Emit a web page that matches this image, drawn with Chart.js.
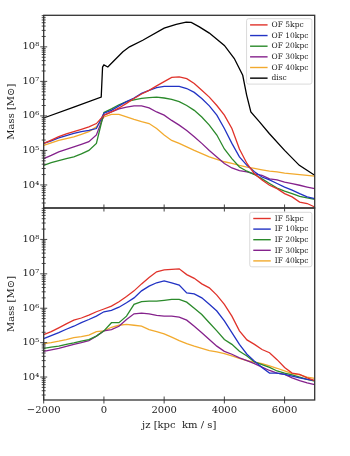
<!DOCTYPE html>
<html><head><meta charset="utf-8">
<script src="https://cdn.jsdelivr.net/npm/chart.js@4.4.1/dist/chart.umd.min.js"></script>
<style>
html,body{margin:0;padding:0;background:#fff;width:350px;height:456px;overflow:hidden}
#c1{position:absolute;left:0;top:0;width:350px;height:212px}
#c2{position:absolute;left:0;top:204px;width:350px;height:252px}
</style></head><body>
<canvas id="c1" width="350" height="212"></canvas>
<canvas id="c2" width="350" height="252"></canvas>
<script>
// ---------- data ----------
const jz = [-2000,-1750,-1500,-1250,-1000,-750,-500,-250,0,250,500,750,1000,1250,1500,1750,2000,2250,2500,2750,3000,3250,3500,3750,4000,4250,4500,4750,5000,5250,5500,5750,6000,6250,6500,6750,7000];

const of5kpc  = [1.6e5,2.0e5,2.5e5,3.0e5,3.5e5,4.1e5,4.8e5,6.0e5,1.05e6,1.3e6,1.7e6,2.3e6,3.2e6,4.3e6,5.5e6,7.4e6,9.8e6,1.3e7,1.35e7,1.2e7,8.7e6,5.5e6,3.5e6,2.0e6,1.05e6,4.3e5,1.1e5,4.2e4,2.1e4,1.4e4,9.8e3,7.8e3,5.6e3,4.5e3,3.2e3,2.9e3,2.3e3];
const of10kpc = [1.6e5,1.9e5,2.3e5,2.7e5,3.1e5,3.5e5,3.8e5,4.3e5,1.2e6,1.45e6,1.95e6,2.6e6,3.3e6,4.5e6,5.5e6,6.6e6,7.2e6,7.2e6,7.2e6,6.2e6,4.8e6,3.2e6,1.95e6,1.05e6,4.3e5,1.6e5,6.5e4,3.7e4,2.4e4,1.7e4,1.4e4,1.1e4,8.7e3,7.1e3,5.6e3,4.5e3,4.0e3];
const of20kpc = [3.7e4,4.4e4,5.1e4,5.8e4,6.5e4,7.9e4,1.0e5,1.6e5,1.25e6,1.6e6,2.1e6,2.6e6,2.9e6,3.2e6,3.4e6,3.5e6,3.3e6,3.0e6,2.6e6,2.0e6,1.45e6,9.3e5,5.4e5,2.8e5,1.1e5,5.8e4,3.3e4,2.5e4,2.0e4,1.5e4,1.1e4,8.1e3,6.6e3,5.6e3,4.7e3,4.2e3,3.8e3];
const of30kpc = [5.8e4,7.2e4,9.1e4,1.07e5,1.26e5,1.5e5,1.8e5,2.8e5,1.05e6,1.3e6,1.6e6,1.8e6,1.95e6,1.95e6,1.7e6,1.3e6,1.05e6,7.4e5,5.4e5,3.8e5,2.5e5,1.6e5,1.0e5,6.5e4,4.2e4,3.1e4,2.6e4,2.4e4,2.1e4,1.9e4,1.5e4,1.4e4,1.2e4,1.1e4,9.8e3,8.7e3,7.8e3];
const of40kpc = [1.4e5,1.65e5,1.95e5,2.2e5,2.45e5,2.9e5,3.5e5,4.8e5,9.3e5,1.1e6,1.1e6,9.3e5,7.9e5,6.8e5,6.0e5,4.3e5,2.8e5,1.95e5,1.6e5,1.26e5,1.0e5,8.1e4,6.5e4,5.5e4,4.7e4,4.2e4,3.7e4,3.3e4,3.0e4,2.75e4,2.5e4,2.4e4,2.2e4,2.1e4,2.0e4,1.9e4,1.8e4];

const discJz   = [-2000,-1000,-90,-45,0,130,300,630,850,1290,2000,2400,2730,2900,3170,3500,4000,4330,4610,4740,4880,5160,5490,6000,6490,7000];
const discMass = [8.7e5,1.8e6,3.5e6,2.6e7,3.0e7,2.6e7,3.7e7,7.2e7,1.0e8,1.55e8,3.5e8,4.5e8,5.2e8,5.1e8,3.8e8,2.5e8,1.1e8,4.6e7,1.5e7,4.0e6,1.3e6,6.8e5,3.1e5,1.0e5,3.7e4,1.9e4];

const if5kpc  = [1.7e5,2.1e5,2.7e5,3.5e5,4.5e5,5.2e5,6.3e5,7.9e5,9.5e5,1.15e6,1.55e6,2.2e6,3.2e6,5.1e6,7.8e6,1.15e7,1.3e7,1.35e7,1.4e7,9.5e6,7.4e6,5.1e6,3.9e6,2.4e6,1.3e6,5.9e5,2.2e5,1.2e5,8.9e4,6.3e4,5.1e4,3.2e4,1.9e4,1.3e4,1.2e4,9.5e3,7.9e3];
const if10kpc = [1.3e5,1.6e5,1.95e5,2.45e5,3.0e5,3.8e5,4.7e5,5.9e5,7.9e5,8.7e5,1.07e6,1.45e6,2.0e6,3.2e6,4.4e6,5.5e6,6.2e6,5.5e6,4.7e6,2.8e6,2.6e6,2.0e6,1.3e6,8.3e5,4.3e5,1.95e5,8.9e4,4.6e4,2.9e4,1.9e4,1.3e4,1.3e4,1.2e4,1.07e4,9.5e3,8.5e3,7.9e3];
const if20kpc = [6.8e4,7.4e4,7.9e4,8.9e4,9.8e4,1.1e5,1.23e5,1.55e5,2.2e5,3.8e5,3.8e5,5.9e5,1.3e6,1.55e6,1.6e6,1.6e6,1.7e6,1.8e6,1.8e6,1.5e6,1.0e6,6.6e5,3.8e5,2.2e5,1.23e5,8.9e4,5.6e4,4.1e4,2.75e4,2.3e4,1.9e4,1.5e4,1.3e4,1.15e4,1.0e4,8.5e3,7.6e3];
const if30kpc = [5.6e4,6.2e4,6.8e4,7.8e4,8.9e4,1.0e5,1.15e5,1.55e5,2.2e5,2.4e5,3.0e5,4.7e5,6.9e5,7.2e5,6.9e5,6.2e5,5.9e5,5.9e5,5.5e5,4.5e5,3.0e5,1.95e5,1.23e5,7.9e4,5.6e4,4.6e4,3.6e4,3.0e4,2.45e4,1.95e4,1.55e4,1.3e4,1.2e4,9.5e3,7.9e3,6.8e3,6.0e3];
const if40kpc = [9.3e4,1.0e5,1.1e5,1.23e5,1.4e5,1.5e5,1.65e5,2.1e5,2.2e5,2.8e5,3.2e5,3.4e5,3.2e5,3.0e5,2.4e5,2.1e5,1.8e5,1.45e5,1.15e5,9.3e4,7.9e4,6.8e4,5.9e4,5.4e4,4.8e4,4.1e4,3.5e4,3.0e4,2.7e4,2.45e4,2.1e4,1.8e4,1.5e4,1.26e4,1.15e4,1.0e4,9.1e3];

const xTickVals = [-2000,0,2000,4000,6000];
const yTickVals = [1e4,1e5,1e6,1e7,1e8];
const labelsTop = ['OF 5kpc','OF 10kpc','OF 20kpc','OF 30kpc','OF 40kpc','disc'];
const labelsBottom = ['IF 5kpc','IF 10kpc','IF 20kpc','IF 30kpc','IF 40kpc'];

// ---------- styling ----------
const COLORS = ['#e0332b','#2233c4','#2b8a2b','#85228c','#f2aa2e','#000000'];
const SERIF = '"DejaVu Serif", "Liberation Serif", serif';
const Y_MIN = 2.15e3, Y_MAX = 8.2e8;
const SUP = {'0':'⁰','1':'¹','2':'²','3':'³','4':'⁴','5':'⁵','6':'⁶','7':'⁷','8':'⁸','9':'⁹'};

function pts(xs, ys){ return xs.map((x,i)=>({x:x, y:ys[i]})); }
function ds(label, xs, ys, color){
  return {label, data: pts(xs, ys), borderColor: color, backgroundColor: color,
          borderWidth: 1.3, pointRadius: 0, tension: 0, fill: false};
}

const frameTicks = {
  id: 'frameTicks',
  afterDraw(chart){
    const {ctx, chartArea: a, scales} = chart;
    const y = scales.y, x = scales.x;
    ctx.save();
    ctx.strokeStyle = '#333';
    ctx.lineWidth = 1.3;
    ctx.strokeRect(a.left, a.top, a.right - a.left, a.bottom - a.top);
    ctx.lineWidth = 0.9;
    ctx.beginPath();
    yTickVals.forEach(v => {
      const p = y.getPixelForValue(v);
      ctx.moveTo(a.left - 3.5, p); ctx.lineTo(a.left + 3.5, p);
    });
    for (let e = 3; e <= 8; e++) {
      for (let k = 2; k <= 9; k++) {
        const v = k * Math.pow(10, e);
        if (v < Y_MIN || v > Y_MAX) continue;
        const p = y.getPixelForValue(v);
        ctx.moveTo(a.left - 2, p); ctx.lineTo(a.left + 2, p);
      }
    }
    xTickVals.forEach(v => {
      const p = x.getPixelForValue(v);
      ctx.moveTo(p, a.bottom - 3.5); ctx.lineTo(p, a.bottom + 3.5);
    });
    ctx.stroke();
    ctx.restore();
  }
};

const boxLegend = {
  id: 'boxLegend',
  afterDatasetsDraw(chart, args, opts){
    const {ctx, chartArea: a} = chart;
    const sets = chart.data.datasets;
    ctx.save();
    ctx.font = '7.5px ' + SERIF;
    let maxW = 0;
    sets.forEach(d => { maxW = Math.max(maxW, ctx.measureText(d.label).width); });
    const rowH = opts.rowH;
    const w = 3.5 + 17.5 + 4 + maxW + 3.5;
    const h = sets.length * rowH + 1.5;
    const right = a.right - 2.8, top = a.top + opts.top;
    const left = right - w;
    ctx.fillStyle = 'rgba(255,255,255,0.85)';
    ctx.strokeStyle = '#d0d0d0';
    ctx.lineWidth = 0.8;
    ctx.beginPath();
    ctx.roundRect(left, top, w, h, 2);
    ctx.fill(); ctx.stroke();
    sets.forEach((d, i) => {
      const cy = top + 6.2 + i * rowH;
      ctx.strokeStyle = d.borderColor;
      ctx.lineWidth = 1.4;
      ctx.beginPath();
      ctx.moveTo(left + 3.5, cy); ctx.lineTo(left + 21, cy);
      ctx.stroke();
      ctx.fillStyle = '#222';
      ctx.textBaseline = 'middle';
      ctx.textAlign = 'left';
      ctx.fillText(d.label, left + 25, cy + 0.3);
    });
    ctx.restore();
  }
};

function makeChart(id, datasets, bottomPanel){
  return new Chart(document.getElementById(id), {
    type: 'line',
    data: {datasets},
    plugins: [frameTicks, boxLegend],
    options: {
      responsive: false, animation: false,
      layout: {padding: bottomPanel ? {top: 4, right: 35.3, left: 0, bottom: 0}
                                    : {top: 15.3, right: 35.3, left: 0, bottom: 0}},
      plugins: {legend: {display: false}, tooltip: {enabled: false},
                boxLegend: {top: bottomPanel ? 4.3 : 3.4, rowH: bottomPanel ? 10.6 : 10.65}},
      scales: {
        x: {
          type: 'linear', min: -2000, max: 7000,
          grid: {display: false, drawTicks: false},
          border: {display: false},
          afterBuildTicks: s => { s.ticks = xTickVals.map(v => ({value: v})); },
          afterFit: s => { s.height = bottomPanel ? 56 : 4; s.paddingLeft = 0; s.paddingRight = 0; },
          ticks: {display: bottomPanel, padding: 4, color: '#222', maxRotation: 0,
                  font: {family: SERIF, size: 10},
                  callback: v => String(v).replace('-', '\u2212')},
          title: {display: bottomPanel, text: 'jz [kpc  km / s]', color: '#222',
                  font: {family: SERIF, size: 10}, padding: {top: 0, bottom: 25}}
        },
        y: {
          type: 'logarithmic', min: Y_MIN, max: Y_MAX,
          grid: {display: false, drawTicks: false},
          border: {display: false},
          afterBuildTicks: s => { s.ticks = yTickVals.map(v => ({value: v, major: true})); },
          afterFit: s => { s.width = 43.7; s.paddingTop = 0; s.paddingBottom = 0; },
          ticks: {padding: 4.5, color: '#222', font: {family: SERIF, size: 10},
                  callback: v => '10' + String(Math.round(Math.log10(v))).split('').map(c => SUP[c]).join('')},
          title: {display: true, text: 'Mass [M\u2299]', color: '#222',
                  font: {family: SERIF, size: 10}, padding: {top: 5.5, bottom: 0}}
        }
      }
    }
  });
}

makeChart('c1', [
  ds(labelsTop[0], jz, of5kpc, COLORS[0]),
  ds(labelsTop[1], jz, of10kpc, COLORS[1]),
  ds(labelsTop[2], jz, of20kpc, COLORS[2]),
  ds(labelsTop[3], jz, of30kpc, COLORS[3]),
  ds(labelsTop[4], jz, of40kpc, COLORS[4]),
  ds(labelsTop[5], discJz, discMass, COLORS[5])
], false);

makeChart('c2', [
  ds(labelsBottom[0], jz, if5kpc, COLORS[0]),
  ds(labelsBottom[1], jz, if10kpc, COLORS[1]),
  ds(labelsBottom[2], jz, if20kpc, COLORS[2]),
  ds(labelsBottom[3], jz, if30kpc, COLORS[3]),
  ds(labelsBottom[4], jz, if40kpc, COLORS[4])
], true);
</script>
</body></html>
